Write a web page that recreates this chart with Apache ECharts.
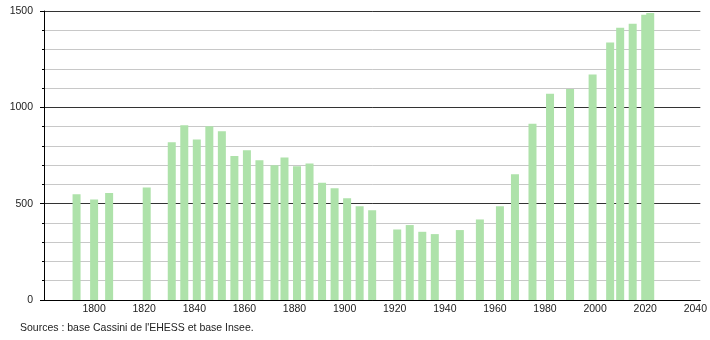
<!DOCTYPE html>
<html>
<head>
<meta charset="utf-8">
<script src="https://cdn.jsdelivr.net/npm/echarts@6/dist/echarts.min.js"></script>
<style>
html,body{margin:0;padding:0;background:#fff;}
#c{width:710px;height:340px;}
</style>
</head>
<body>
<div id="c"></div>
<script>
const years = [1793,1800,1806,1821,1831,1836,1841,1846,1851,1856,1861,1866,1872,1876,1881,1886,1891,1896,1901,1906,1911,1921,1926,1931,1936,1946,1954,1962,1968,1975,1982,1990,1999,2006,2010,2015,2020,2022];
const population = [549,522,556,584,819,907,833,902,876,748,777,725,700,739,694,708,608,580,528,487,466,366,389,354,342,363,418,487,653,915,1071,1095,1171,1337,1413,1434,1480,1490];
const xTickLabels = [1800,1820,1840,1860,1880,1900,1920,1940,1960,1980,2000,2020,2040];
const yTickLabels = [0,500,1000,1500];
const sourceText = "Sources : base Cassini de l'EHESS et base Insee.";

const chart = echarts.init(document.getElementById('c'), null, {renderer:'canvas'});
const font = 'Liberation Sans, Arial, sans-serif';
chart.setOption({
  animation: false,
  backgroundColor: '#fff',
  grid: {left: 44, right: 9, top: 11, bottom: 40, containLabel: false},
  xAxis: {
    type: 'value', min: 1780, max: 2042, interval: 20,
    axisLine: {show: true, lineStyle: {color: '#000', width: 1}},
    axisTick: {show: false},
    splitLine: {show: false},
    axisLabel: {
      margin: 4, fontSize: 10.5, color: '#222', fontFamily: font,
      showMinLabel: true, showMaxLabel: true,
      formatter: v => xTickLabels.includes(v) ? String(v) : ''
    }
  },
  yAxis: {
    type: 'value', min: 0, max: 1500, interval: 500,
    axisLine: {show: true, lineStyle: {color: '#000', width: 1}},
    axisTick: {show: true, length: 4, lineStyle: {color: '#000'}},
    minorTick: {show: true, splitNumber: 5, length: 2, lineStyle: {color: '#000'}},
    splitLine: {show: true, lineStyle: {color: '#333', width: 1}},
    minorSplitLine: {show: true, lineStyle: {color: '#c8c8c8', width: 1}},
    axisLabel: {
      margin: 11, fontSize: 10.5, color: '#222', fontFamily: font,
      formatter: v => yTickLabels.includes(v) ? String(v) : ''
    }
  },
  series: [{
    type: 'bar',
    barWidth: 8,
    itemStyle: {color: '#aee2aa'},
    data: years.map((y, i) => [y, population[i]])
  }],
  graphic: [{
    type: 'text', left: 20, top: 323,
    style: {text: sourceText, font: '10.5px ' + font, fill: '#222'}
  }]
});
</script>
</body>
</html>
